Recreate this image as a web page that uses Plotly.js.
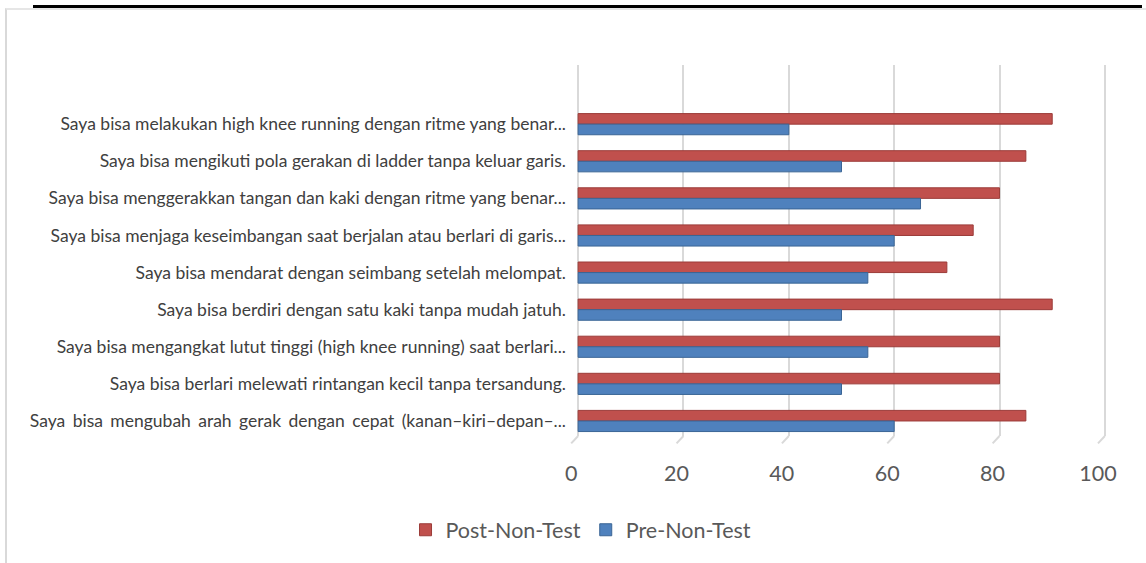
<!DOCTYPE html>
<html>
<head>
<meta charset="utf-8">
<script src="https://cdn.plot.ly/plotly-3.0.1.min.js"></script>
<style>
  html, body { margin: 0; padding: 0; background: #ffffff; }
  #wrap { position: relative; width: 1146px; height: 563px; overflow: hidden; }
  #chart { position: absolute; left: 0; top: 0; width: 1146px; height: 563px; }
  #frame { position: absolute; left: 5px; top: 8px; width: 1200px; height: 600px;
           border-left: 2px solid #d9d9d9; border-top: 2px solid #e6e6e6; pointer-events: none; }
  #topline { position: absolute; left: 33px; top: 5px; width: 1109px; height: 3px; background: #000; }
</style>
</head>
<body>
<div id="wrap">
  <div id="chart"></div>
  <div id="frame"></div>
  <div id="topline"></div>
</div>
<script>
// Categories, top to bottom as shown
const categories = [
  "Saya bisa melakukan high knee running dengan ritme yang benar...",
  "Saya bisa mengikuti pola gerakan di ladder tanpa keluar garis.",
  "Saya bisa menggerakkan tangan dan kaki dengan ritme yang benar...",
  "Saya bisa menjaga keseimbangan saat berjalan atau berlari di garis...",
  "Saya bisa mendarat dengan seimbang setelah melompat.",
  "Saya bisa berdiri dengan satu kaki tanpa mudah jatuh.",
  "Saya bisa mengangkat lutut tinggi (high knee running) saat berlari...",
  "Saya bisa berlari melewati rintangan kecil tanpa tersandung.",
  "Saya\u2006 bisa\u2006 mengubah\u2006 arah\u2006 gerak\u2006 dengan\u2006 cepat\u2006 (kanan–kiri–depan–..."
];
const postNonTest = [90, 85, 80, 75, 70, 90, 80, 80, 85];
const preNonTest  = [40, 50, 65, 60, 55, 50, 55, 50, 60];
const tickValues  = [0, 20, 40, 60, 80, 100];
const tickLabels  = ["0", "20", "40", "60", "80", "100"];

const font = "Lato, 'Open Sans', sans-serif";
const xRange = [-0.4, 100.4];

const traces = [
  {
    type: "bar", orientation: "h", name: "Post-Non-Test",
    y: categories, x: postNonTest,
    marker: { color: "#C0504D", line: { color: "#9B3B38", width: 1 } },
    hoverinfo: "x+y"
  },
  {
    type: "bar", orientation: "h", name: "Pre-Non-Test",
    y: categories, x: preNonTest,
    marker: { color: "#4F81BD", line: { color: "#3A6595", width: 1 } },
    hoverinfo: "x+y"
  }
];

// small "floor" strokes under each gridline (decoration of the 3D look)
const span = xRange[1] - xRange[0];
const floorShapes = tickValues.map(v => {
  const px = (v - xRange[0]) / span;
  return {
    type: "line", xref: "paper", yref: "paper",
    x0: px, x1: px - 0.013, y0: 0, y1: -0.02,
    line: { color: "#d9d9d9", width: 2 }, layer: "above"
  };
});

const layout = {
  width: 1146, height: 563,
  margin: { l: 576, r: 39, t: 65, b: 127, pad: 0 },
  paper_bgcolor: "#ffffff", plot_bgcolor: "#ffffff",
  barmode: "group",
  bargap: 0.43, bargroupgap: 0,
  showlegend: true,
  legend: {
    orientation: "h", xref: "container", yref: "container",
    x: 0.507, xanchor: "center", y: 0.059, yanchor: "middle",
    font: { family: font, size: 21.5, color: "#595959" },
    traceorder: "normal", itemwidth: 30
  },
  xaxis: {
    range: xRange, tickvals: tickValues, ticktext: tickLabels,
    showgrid: true, gridcolor: "#d9d9d9", gridwidth: 2,
    zeroline: false, showline: false, ticks: "",
    ticklabelshift: -7, ticklabelstandoff: 22,
    tickfont: { family: font, size: 21.5, color: "#595959" },
    fixedrange: true
  },
  yaxis: {
    type: "category", categoryorder: "array", categoryarray: categories,
    range: [8.405, -1.595],
    showgrid: false, zeroline: false, showline: false, ticks: "",
    ticklabelstandoff: 9,
    tickfont: { family: font, size: 17.5, color: "#404040" },
    fixedrange: true
  },
  shapes: floorShapes
};

Plotly.newPlot("chart", traces, layout, { displayModeBar: false });
</script>
</body>
</html>
